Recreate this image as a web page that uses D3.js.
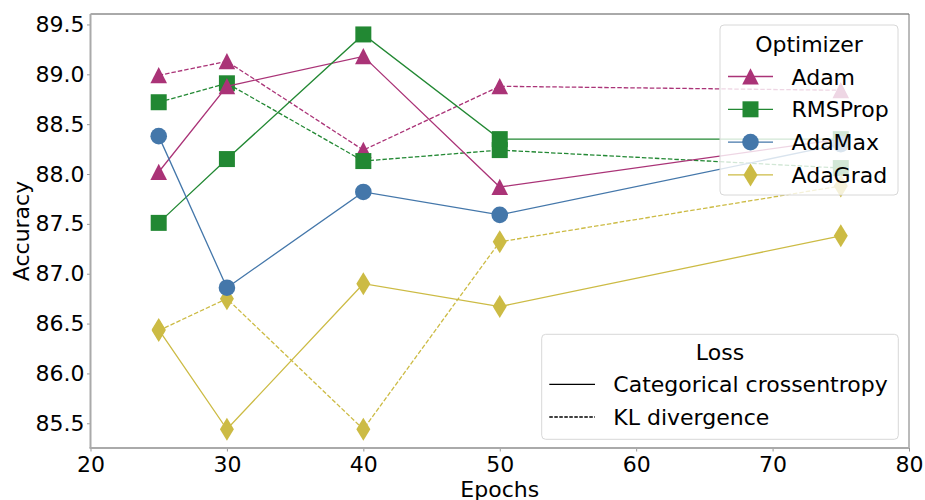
<!DOCTYPE html>
<html>
<head>
<meta charset="utf-8">
<script src="https://cdn.jsdelivr.net/npm/d3@7"></script>
<style>
    body { margin: 0; background: #fff; }
    svg { font-family: "DejaVu Sans", sans-serif; }
</style>
</head>
<body>
<div id="chart"></div>
<script>
// 数据：从图中读取
const epochs = [25, 30, 40, 50, 75];
const adamCE = [88.02, 88.88, 89.18, 87.87, 88.35];
const adamKL = [88.99, 89.13, 88.24, 88.88, 88.84];
const rmspropCE = [87.51, 88.15, 89.40, 88.35, 88.35];
const rmspropKL = [88.72, 88.91, 88.13, 88.24, 88.06];
const adamaxCE = [88.38, 86.86, 87.82, 87.59, 88.30];
const adagradCE = [86.44, 85.44, 86.90, 86.67, 87.38];
const adagradKL = [86.43, 86.75, 85.44, 87.32, 87.88];

const optimizers = ['Adam', 'RMSProp', 'AdaMax', 'AdaGrad'];
const losses = ['Categorical crossentropy', 'KL divergence'];
const xTicks = [20, 30, 40, 50, 60, 70, 80];
const yTicks = [85.5, 86.0, 86.5, 87.0, 87.5, 88.0, 88.5, 89.0, 89.5];

const COLORS = {
    Adam: '#AA3377',
    RMSProp: '#228833',
    AdaMax: '#4477AA',
    AdaGrad: '#CCBB44'
};
const SHAPES = {
    Adam: 'triangle',
    RMSProp: 'square',
    AdaMax: 'circle',
    AdaGrad: 'thin'
};

// KL 先画，CE 后画（与原图的叠放顺序一致）
const series = [
    { opt: 'Adam', loss: 'KL', values: adamKL },
    { opt: 'RMSProp', loss: 'KL', values: rmspropKL },
    { opt: 'AdaGrad', loss: 'KL', values: adagradKL },
    { opt: 'Adam', loss: 'CE', values: adamCE },
    { opt: 'RMSProp', loss: 'CE', values: rmspropCE },
    { opt: 'AdaMax', loss: 'CE', values: adamaxCE },
    { opt: 'AdaGrad', loss: 'CE', values: adagradCE }
];

const width = 925;
const height = 500;
const plot = { left: 90.5, right: 909, top: 14, bottom: 448 };
const FONT = 22;
const DASH = '4.5,2';

const x = d3.scaleLinear().domain([20, 80]).range([plot.left, plot.right]);
const y = d3.scaleLinear().domain([85.252, 89.605]).range([plot.bottom, plot.top]);

const svg = d3.select('#chart')
    .append('svg')
    .attr('width', width)
    .attr('height', height);

function markerPath(shape) {
    switch (shape) {
        case 'triangle': return 'M0,-8.3L8.3,8L-8.3,8Z';
        case 'square': return 'M-8,-8H8V8H-8Z';
        case 'thin': return 'M0,-11.5L7,0L0,11.5L-7,0Z';
        default: return null;
    }
}

function drawMarker(g, shape, color) {
    if (shape === 'circle') {
        g.append('circle').attr('r', 8.3).attr('fill', color);
    } else {
        g.append('path').attr('d', markerPath(shape)).attr('fill', color);
    }
}

// 坐标轴
const yAxis = svg.append('g')
    .attr('transform', `translate(${plot.left},0)`)
    .call(d3.axisLeft(y).tickValues(yTicks).tickFormat(d3.format('.1f')).tickSize(3.5).tickPadding(2.5));
const xAxis = svg.append('g')
    .attr('transform', `translate(0,${plot.bottom})`)
    .call(d3.axisBottom(x).tickValues(xTicks).tickFormat(d3.format('d')).tickSize(3.5).tickPadding(4.5));

[yAxis, xAxis].forEach(ax => {
    ax.select('.domain').remove();
    ax.selectAll('line').attr('stroke', '#999');
    ax.selectAll('text')
        .attr('font-size', FONT)
        .attr('font-family', '"DejaVu Sans", sans-serif')
        .attr('fill', '#000');
});

// 线条与标记
const line = d3.line()
    .x((d, i) => x(epochs[i]))
    .y(d => y(d));

const seriesGroup = svg.append('g');
series.forEach(s => {
    const g = seriesGroup.append('g');
    g.append('path')
        .attr('d', line(s.values))
        .attr('fill', 'none')
        .attr('stroke', COLORS[s.opt])
        .attr('stroke-width', 1.3)
        .attr('stroke-dasharray', s.loss === 'KL' ? DASH : null);
    s.values.forEach((v, i) => {
        const m = g.append('g').attr('transform', `translate(${x(epochs[i])},${y(v)})`);
        drawMarker(m, SHAPES[s.opt], COLORS[s.opt]);
    });
});

// 边框
svg.append('line').attr('x1', plot.left).attr('x2', plot.right).attr('y1', plot.top).attr('y2', plot.top)
    .attr('stroke', '#555').attr('stroke-width', 1);
svg.append('line').attr('x1', plot.right).attr('x2', plot.right).attr('y1', plot.top).attr('y2', plot.bottom)
    .attr('stroke', '#777').attr('stroke-width', 1);
svg.append('line').attr('x1', plot.left).attr('x2', plot.left).attr('y1', plot.top).attr('y2', plot.bottom)
    .attr('stroke', '#aaa').attr('stroke-width', 2);
svg.append('line').attr('x1', plot.left - 1).attr('x2', plot.right).attr('y1', plot.bottom).attr('y2', plot.bottom)
    .attr('stroke', '#aaa').attr('stroke-width', 2);

// 轴标题
svg.append('text')
    .attr('x', (plot.left + plot.right) / 2)
    .attr('y', 496.5)
    .attr('text-anchor', 'middle')
    .attr('font-size', FONT)
    .text('Epochs');
svg.append('text')
    .attr('transform', `translate(29,${(plot.top + plot.bottom) / 2}) rotate(-90)`)
    .attr('text-anchor', 'middle')
    .attr('font-size', FONT)
    .text('Accuracy');

// 图例：优化器
const leg1 = svg.append('g');
leg1.append('rect')
    .attr('x', 720).attr('y', 25).attr('width', 178).attr('height', 170).attr('rx', 4)
    .attr('fill', '#fff').attr('fill-opacity', 0.8)
    .attr('stroke', '#d8d8d8');
leg1.append('text')
    .attr('x', 809).attr('y', 52)
    .attr('text-anchor', 'middle')
    .attr('font-size', FONT)
    .text('Optimizer');
optimizers.forEach((opt, i) => {
    const cy = 76.5 + i * 32.8;
    leg1.append('line')
        .attr('x1', 728).attr('x2', 773).attr('y1', cy).attr('y2', cy)
        .attr('stroke', COLORS[opt]).attr('stroke-width', 1.3);
    const m = leg1.append('g').attr('transform', `translate(750.5,${cy})`);
    drawMarker(m, SHAPES[opt], COLORS[opt]);
    leg1.append('text')
        .attr('x', 791.5).attr('y', cy + 8)
        .attr('font-size', FONT)
        .text(opt);
});

// 图例：损失函数
const leg2 = svg.append('g');
leg2.append('rect')
    .attr('x', 541.7).attr('y', 334.3).attr('width', 356.6).attr('height', 105).attr('rx', 4)
    .attr('fill', '#fff').attr('fill-opacity', 0.8)
    .attr('stroke', '#d8d8d8');
leg2.append('text')
    .attr('x', 720).attr('y', 360)
    .attr('text-anchor', 'middle')
    .attr('font-size', FONT)
    .text('Loss');
losses.forEach((loss, i) => {
    const cy = 384.3 + i * 32.7;
    leg2.append('line')
        .attr('x1', 549.3).attr('x2', 595).attr('y1', cy).attr('y2', cy)
        .attr('stroke', '#000').attr('stroke-width', 1.3)
        .attr('stroke-dasharray', i === 1 ? '3.5,1.5' : null);
    leg2.append('text')
        .attr('x', 613.3).attr('y', cy + 8)
        .attr('font-size', FONT)
        .text(loss);
});
</script>
</body>
</html>
